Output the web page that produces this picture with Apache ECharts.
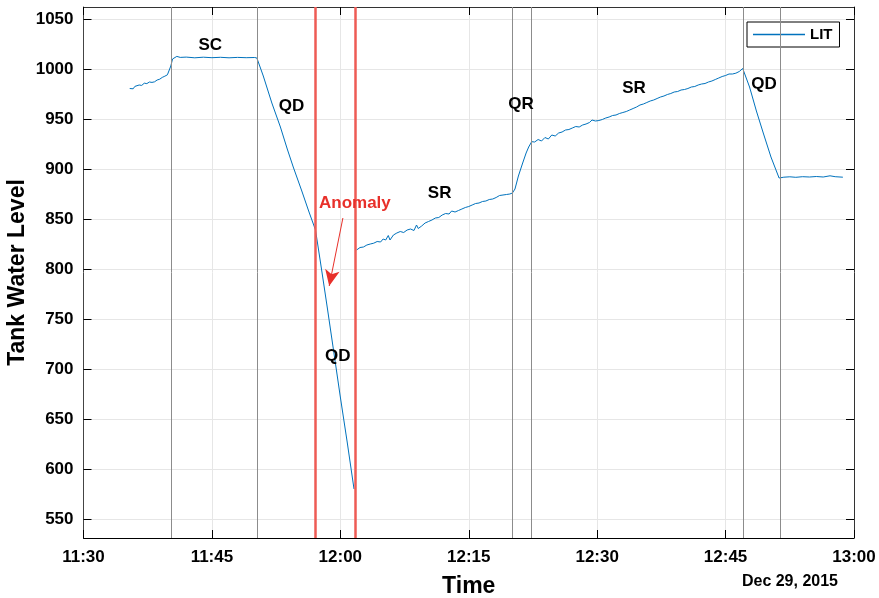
<!DOCTYPE html>
<html>
<head>
<meta charset="utf-8">
<title>Tank Water Level</title>
<script src="https://cdn.jsdelivr.net/npm/echarts@6/dist/echarts.min.js"></script>
<style>
  html, body { margin: 0; padding: 0; background: #fff; }
  #chart { width: 879px; height: 598px; }
</style>
</head>
<body>
<div id="chart"></div>
<script>
// time in minutes since midnight (690 = 11:30), level
const litTime = [
  695.4, 695.6, 695.8, 696.0, 696.2, 696.5, 696.8, 697.1, 697.4, 697.7, 698.0, 698.3, 698.6, 698.9,
  699.2, 699.5, 699.8, 700.0, 700.2, 700.4, 700.6, 700.9, 701.3, 702.0, 703.0, 704.0, 705.0, 706.0,
  707.0, 708.0, 709.0, 710.0, 710.25,
  711.0, 712.0, 713.0, 713.8, 714.5, 715.5, 716.3, 717.1,
  717.8, 718.5, 719.2, 720.0, 720.8, 721.6,
  721.7,
  721.9, 722.3, 722.7, 723.1, 723.5, 723.9, 724.3, 724.7, 725.0, 725.3, 725.6, 725.8, 726.2, 726.6,
  727.0, 727.4, 727.8, 728.2, 728.6, 728.9, 729.1, 729.5, 729.9, 730.3, 730.7, 731.1, 731.5, 731.9,
  732.3, 732.7, 733.0, 733.4, 733.8, 734.2, 734.6, 735.0, 735.4, 735.8, 736.2, 736.6, 737.0, 737.4,
  737.8, 738.2, 738.6, 739.0, 739.4, 739.8, 740.1,
  740.4, 740.8, 741.3, 741.7, 742.0, 742.35,
  742.7, 743.1, 743.5, 743.9, 744.3, 744.7, 745.1, 745.5, 745.9, 746.3, 746.7, 747.1, 747.5, 747.9,
  748.3, 748.7, 749.1, 749.4, 749.8, 750.2, 750.6, 751.0, 751.4, 751.8, 752.2, 752.6, 753.0, 753.4,
  753.8, 754.2, 754.6, 755.0, 755.4, 755.8, 756.2, 756.6, 757.0, 757.4, 757.8, 758.2, 758.6, 759.0,
  759.4, 759.8, 760.2, 760.6, 761.0, 761.4, 761.8, 762.2, 762.6, 763.0, 763.4, 763.8, 764.2, 764.6,
  765.0, 765.4, 765.8, 766.2, 766.6, 767.0,
  767.8, 768.6, 769.4, 770.3, 771.25,
  771.8, 772.5, 773.2, 774.0, 774.8, 775.6, 776.4, 777.2, 777.8, 778.7
];
const litLevel = [
  980.5, 982.3, 980.2, 982.6, 982.0, 984.0, 983.6, 985.8, 985.4, 987.0, 986.6, 987.2, 989.0, 989.8,
  991.6, 992.8, 994.2, 996.0, 1003.0, 1010.0, 1012.0, 1012.6, 1011.6, 1011.9, 1011.2, 1011.8, 1011.3, 1011.7,
  1011.2, 1011.6, 1011.3, 1011.5, 1011.0,
  993, 966, 942, 920, 902, 878, 858, 839,
  800, 760, 719, 672, 627, 580,
  null,
  819, 821.5, 822, 824, 825, 825.8, 827.5, 827, 830, 829, 833.5, 829, 834, 836,
  837.5, 836.5, 839, 840, 838.5, 844, 840.5, 843, 846, 847.5, 849, 851, 851.5, 854,
  855.5, 855, 858, 857, 858.5, 860, 861.5, 862.5, 864, 865.5, 866, 867.5, 868, 869.5,
  870, 871.5, 873.5, 874, 874.5, 875, 876,
  880, 893, 906, 916, 922, 927.3,
  927, 929.5, 928, 931.5, 930, 934, 933, 936, 937, 939, 939.5, 941, 942.5, 942,
  944, 945, 946.5, 949, 948, 948.5, 949.5, 951, 952, 953.5, 954, 955.5, 956.5, 957.5,
  959, 960.5, 962, 964, 965, 966.5, 968, 969, 970.5, 972, 973, 974.5, 975.5, 977,
  977.5, 979, 979.5, 980.5, 982, 982.5, 984, 985, 985.5, 987, 988, 989.5, 991, 992.5,
  993.5, 995, 995, 995.8, 997.5, 1000.5,
  982, 958, 936, 912, 891,
  891.8, 892.2, 891.7, 892.3, 892, 892.5, 892, 893.2, 892.3, 891.8
];

// phase boundaries (grey) and anomaly window (red)
const phaseTimes = [700.2, 710.3, 740.1, 742.35, 767.07, 771.4];
const anomalyTimes = [717.1, 721.75];

// text annotations: [time, level, label]
const phaseLabels = [
  [704.8, 1024, 'SC'],
  [714.3, 963, 'QD'],
  [719.7, 713, 'QD'],
  [741.1, 965, 'QR'],
  [731.6, 876, 'SR'],
  [754.3, 981, 'SR'],
  [769.5, 985, 'QD']
];
const anomalyLabel = [721.7, 866, 'Anomaly'];
const arrowFrom = [720.3, 851];
const arrowTo = [718.7, 783];

const xTicks = { min: 690, max: 780, step: 15 };
const yTickValues = [550, 600, 650, 700, 750, 800, 850, 900, 950, 1000, 1050];
const yRange = [531, 1062];

const FONT = "'Liberation Sans', Arial, Helvetica, sans-serif";
const BLUE = '#0072bd';
const RED = '#ee5b55';

function fmtTime(v) {
  const h = Math.floor(v / 60);
  const m = Math.round(v % 60);
  return h + ':' + (m < 10 ? '0' + m : m);
}

const litData = litTime.map((t, i) => [t, litLevel[i]]);

const chart = echarts.init(document.getElementById('chart'));

const option = {
  backgroundColor: '#fff',
  animation: false,
  textStyle: { fontFamily: FONT },
  grid: { left: 83.5, right: 25, top: 7, bottom: 60, containLabel: false, outerBoundsMode: 'none' },
  legend: {
    data: [{ name: 'LIT', icon: 'rect' }],
    left: 747,
    top: 22,
    padding: [5, 7, 5, 6],
    itemWidth: 52,
    itemHeight: 1.5,
    itemGap: 5,
    borderColor: '#000',
    borderWidth: 1,
    backgroundColor: '#fff',
    textStyle: { fontFamily: FONT, fontWeight: 'bold', fontSize: 15, color: '#000' }
  },
  xAxis: [
    {
      type: 'value',
      min: xTicks.min,
      max: xTicks.max,
      interval: xTicks.step,
      name: 'Time',
      nameLocation: 'middle',
      nameGap: 37,
      nameMoveOverlap: false,
      nameTextStyle: { fontFamily: FONT, fontWeight: 'bold', fontSize: 23, color: '#000' },
      axisLine: { onZero: false, lineStyle: { color: '#000', width: 1 } },
      axisTick: { inside: true, length: 8, lineStyle: { color: '#000' } },
      axisLabel: {
        formatter: fmtTime,
        margin: 11,
        fontFamily: FONT, fontWeight: 'bold', fontSize: 17, color: '#000'
      },
      splitLine: { show: true, lineStyle: { color: '#e6e6e6', width: 1 } }
    },
    {
      type: 'value',
      position: 'top',
      min: xTicks.min,
      max: xTicks.max,
      interval: xTicks.step,
      axisLine: { onZero: false, lineStyle: { color: '#333', width: 1 } },
      axisTick: { inside: true, length: 8, lineStyle: { color: '#000' } },
      axisLabel: { show: false },
      splitLine: { show: false }
    }
  ],
  yAxis: [
    {
      type: 'value',
      min: yRange[0],
      max: yRange[1],
      name: 'Tank Water Level',
      nameLocation: 'middle',
      nameGap: 54,
      nameMoveOverlap: false,
      nameTextStyle: { fontFamily: FONT, fontWeight: 'bold', fontSize: 23, color: '#000' },
      axisLine: { show: true, onZero: false, lineStyle: { color: '#444', width: 1 } },
      axisTick: { show: true, inside: true, length: 8, customValues: yTickValues, lineStyle: { color: '#000' } },
      axisLabel: {
        customValues: yTickValues,
        formatter: (v) => String(v),
        margin: 10,
        fontFamily: FONT, fontWeight: 'bold', fontSize: 17, color: '#000'
      },
      splitLine: { show: true, lineStyle: { color: '#e6e6e6', width: 1 } }
    },
    {
      type: 'value',
      position: 'right',
      min: yRange[0],
      max: yRange[1],
      axisLine: { show: true, onZero: false, lineStyle: { color: '#333', width: 1 } },
      axisTick: { show: true, inside: true, length: 8, customValues: yTickValues, lineStyle: { color: '#000' } },
      axisLabel: { show: false },
      splitLine: { show: false }
    }
  ],
  series: [
    {
      name: 'LIT',
      type: 'line',
      data: litData,
      showSymbol: false,
      connectNulls: false,
      color: BLUE,
      lineStyle: { color: BLUE, width: 1 },
      z: 3,
      markLine: {
        silent: true,
        symbol: ['none', 'none'],
        label: { show: false },
        data: phaseTimes.map((t) => ({ xAxis: t, lineStyle: { color: '#8c8c8c', width: 1, type: 'solid' } }))
          .concat(anomalyTimes.map((t) => ({ xAxis: t, lineStyle: { color: RED, width: 2.5, type: 'solid' } })))
      }
    },
    {
      name: 'labels',
      type: 'scatter',
      data: phaseLabels,
      symbolSize: 0,
      silent: true,
      z: 5,
      itemStyle: { opacity: 1 },
      label: {
        show: true,
        position: 'inside',
        formatter: (p) => p.value[2],
        textBorderWidth: 0,
        opacity: 1,
        fontFamily: FONT, fontWeight: 'bold', fontSize: 17, color: '#000'
      }
    },
    {
      name: 'anomaly',
      type: 'scatter',
      data: [anomalyLabel],
      symbolSize: 0,
      silent: true,
      z: 5,
      itemStyle: { opacity: 1 },
      label: {
        show: true,
        position: 'inside',
        formatter: (p) => p.value[2],
        textBorderWidth: 0,
        opacity: 1,
        fontFamily: FONT, fontWeight: 'bold', fontSize: 17, color: '#e8302a'
      },
      markLine: {
        silent: true,
        symbol: ['none', 'arrow'],
        symbolSize: [11, 16],
        label: { show: false },
        lineStyle: { color: '#e8302a', width: 1, type: 'solid' },
        data: [[{ coord: arrowFrom }, { coord: arrowTo }]]
      }
    }
  ],
  graphic: [
    {
      type: 'text',
      right: 41,
      top: 574,
      style: {
        text: 'Dec 29, 2015',
        fontFamily: FONT, fontWeight: 'bold', fontSize: 16, fill: '#000'
      }
    }
  ]
};

chart.setOption(option);
</script>
</body>
</html>
